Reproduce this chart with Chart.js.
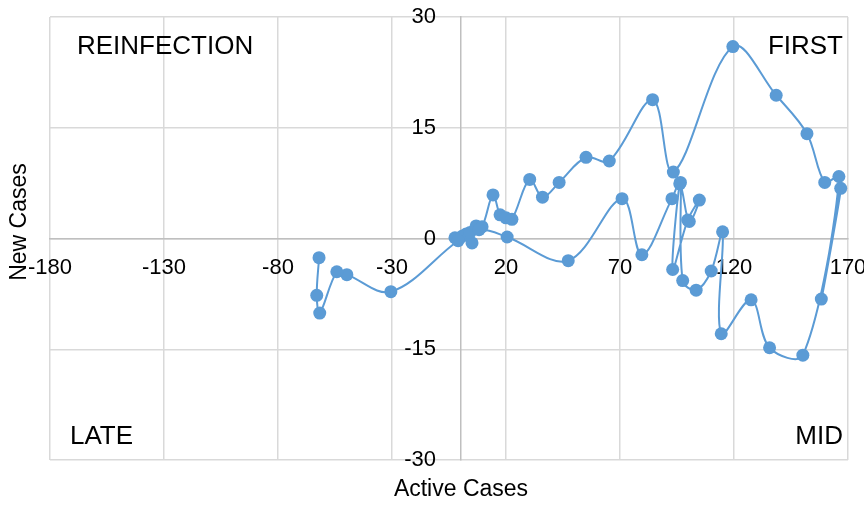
<!DOCTYPE html>
<html><head><meta charset="utf-8">
<script src="https://cdn.jsdelivr.net/npm/chart.js@4/dist/chart.umd.min.js"></script>
<style>html,body{margin:0;padding:0;background:#fff}#wrap{width:864px;height:508px}</style>
</head><body><div id="wrap"><canvas id="c" width="864" height="508"></canvas></div>
<script>
const activeCases = [-2.4, 0.7, 2.5, 5.1, 4.2, 6.9, 9.5, 14.3, 17.4, 20.0, 22.6, 30.4, 36.0, 43.3, 55.1, 65.3, 84.3, 93.4, 119.5, 138.5, 152.0, 159.8, 166.0, 158.3, 166.8, 150.2, 135.6, 127.5, 114.4, 115.0, 110.0, 103.4, 97.5, 96.5, 93.1, 99.7, 104.8, 100.4, 96.2, 92.8, 79.6, 70.9, 47.3, 20.5, 8.2, -1.0, -30.5, -49.8, -54.2, -61.7, -63.0, -62.0];
const newCases = [0.1, 0.3, 0.6, -0.6, 0.8, 1.7, 1.6, 5.9, 3.2, 2.8, 2.6, 8.0, 5.6, 7.6, 11.0, 10.5, 18.8, 9.0, 26.0, 19.4, 14.2, 7.6, 8.4, -8.2, 6.8, -15.8, -14.8, -8.3, -12.9, 0.9, -4.4, -7.0, -5.7, 7.6, -4.2, 2.5, 5.2, 2.3, 7.4, 5.4, -2.2, 5.4, -3.0, 0.2, 1.2, -0.3, -7.2, -4.9, -4.5, -10.1, -7.7, -2.6];
const xTicks = [-180, -130, -80, -30, 20, 70, 120, 170];
const yTicks = [-30, -15, 0, 15, 30];
const quadrantLabels = ['REINFECTION', 'FIRST', 'LATE', 'MID'];
const xTitle = 'Active Cases';
const yTitle = 'New Cases';

const FONT = '"Liberation Sans", Arial, sans-serif';
Chart.defaults.font.family = FONT;
Chart.defaults.color = '#000';

const textPlugin = {
  id: 'texts',
  afterDraw(chart) {
    const {ctx, chartArea: a} = chart;
    ctx.save();
    ctx.fillStyle = '#000';
    ctx.textBaseline = 'middle';
    ctx.font = '26px ' + FONT;
    ctx.textAlign = 'left';
    ctx.fillText(quadrantLabels[0], a.left + 27, a.top + 30);
    ctx.fillText(quadrantLabels[2], a.left + 20, a.bottom - 23);
    ctx.textAlign = 'right';
    ctx.fillText(quadrantLabels[1], a.right - 5, a.top + 30);
    ctx.fillText(quadrantLabels[3], a.right - 5, a.bottom - 23);
    ctx.font = '23px ' + FONT;
    ctx.textAlign = 'center';
    ctx.fillText(xTitle, 461, 490);
    ctx.translate(20, 222);
    ctx.rotate(-Math.PI / 2);
    ctx.fillText(yTitle, 0, 0);
    ctx.restore();
  }
};

const noPad = s => { s.paddingLeft = 0; s.paddingRight = 0; s.paddingTop = 0; s.paddingBottom = 0; };
const points = activeCases.map((x, i) => ({x: x, y: newCases[i]}));

new Chart(document.getElementById('c').getContext('2d'), {
  type: 'scatter',
  data: {datasets: [{
    data: points, showLine: true, borderColor: '#5B9BD5', backgroundColor: '#5B9BD5',
    pointRadius: 6.5, pointHoverRadius: 6.5, pointBorderWidth: 0, borderWidth: 2, tension: 0.35, clip: false
  }]},
  options: {
    responsive: false, animation: false, devicePixelRatio: 1,
    layout: {padding: {left: 50, right: 16, top: 17, bottom: 48}},
    plugins: {legend: {display: false}, tooltip: {enabled: false}},
    scales: {
      x: {
        type: 'linear', min: -180, max: 170, position: {y: 0},
        afterBuildTicks: ax => { ax.ticks = xTicks.map(v => ({value: v})); },
        afterFit: noPad,
        grid: {color: '#D9D9D9', lineWidth: 1.5, drawTicks: false},
        border: {color: '#BFBFBF', width: 1.5},
        ticks: {padding: 16, color: '#000', font: {size: 22}, maxRotation: 0, autoSkip: false}
      },
      y: {
        type: 'linear', min: -30, max: 30, position: {x: 0},
        afterBuildTicks: ax => { ax.ticks = yTicks.map(v => ({value: v})); },
        afterFit: noPad,
        grid: {color: '#D9D9D9', lineWidth: 1.5, drawTicks: false},
        border: {color: '#BFBFBF', width: 1.5},
        ticks: {color: '#000', font: {size: 22}, autoSkip: false, callback: v => v + '    '}
      }
    }
  },
  plugins: [textPlugin]
});
</script>
</body></html>
